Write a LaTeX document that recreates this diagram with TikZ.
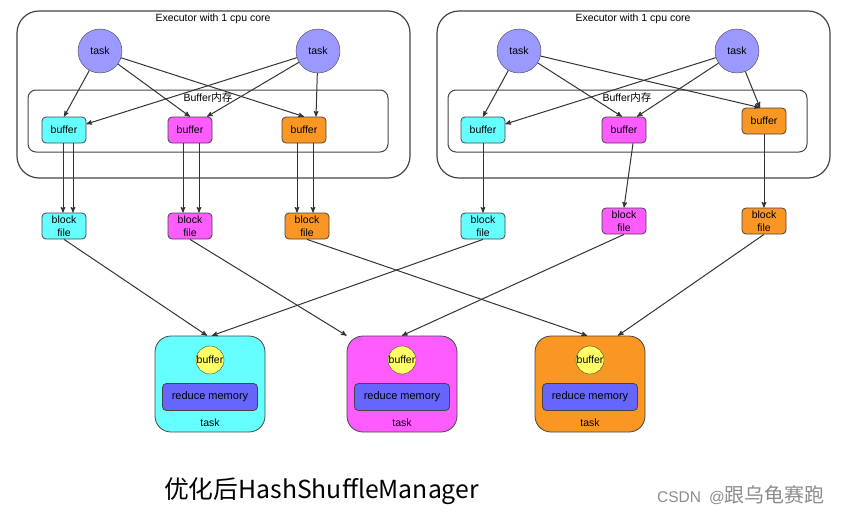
\documentclass[tikz,border=0pt]{standalone}
\usepackage{fontspec}
\setmainfont{Liberation Sans}
\newfontfamily\cjk{Noto Sans CJK SC}
\usepackage{tikz}
\usetikzlibrary{arrows,shapes}
\usetikzlibrary{positioning}
\definecolor{taskblue}{HTML}{9999FF}
\definecolor{memblue}{HTML}{6666FF}
\definecolor{cyanfill}{HTML}{66FFFF}
\definecolor{magfill}{HTML}{FF5CFF}
\definecolor{orgfill}{HTML}{FA9623}
\definecolor{yelfill}{HTML}{FFFF66}
\definecolor{edge}{HTML}{444444}
\tikzset{
    >=stealth',
    every node/.style={font=\fontsize{10.5}{12}\selectfont},
    executor/.style={draw=edge, line width=1.2pt, rounded corners=22pt},
    membox/.style={draw=edge, line width=1pt, rounded corners=8pt},
    taskcircle/.style={circle, draw=edge, fill=taskblue, minimum size=44pt, inner sep=0pt},
    bufbox/.style={draw=edge, line width=0.8pt, rounded corners=4pt, minimum width=44pt, minimum height=26pt, inner sep=0pt},
    filebox/.style={bufbox, align=center, font=\fontsize{10.5}{13}\selectfont},
    redtask/.style={draw=edge, line width=0.8pt, rounded corners=16pt, minimum width=110pt, minimum height=96pt},
    redbuf/.style={circle, draw=edge, fill=yelfill, minimum size=28pt, inner sep=0pt},
    redmem/.style={draw=edge, line width=0.8pt, fill=memblue, rounded corners=4pt, minimum width=95pt, minimum height=27pt, font=\fontsize{11}{13}\selectfont},
    flow/.style={->, draw=black!80, line width=1pt},
}

\begin{document}
\begin{tikzpicture}[x=1pt, y=-1pt]
\useasboundingbox (0,0) rectangle (844,515);
% left executor
\node[executor, minimum width=393pt, minimum height=167pt] (ex1) at (213.5,94.5) {};
\node (ex1title) at (213,19) {Executor with 1 cpu core};
\node[membox, minimum width=360pt, minimum height=62pt] (mem1) at (208,121) {};
\node (mem1title) at (208,98) {Buffer{\cjk 内存}};
\node[taskcircle] (t1a) at (100,51) {task};
\node[taskcircle] (t1b) at (318,51) {task};
\node[bufbox, fill=cyanfill] (b1c) at (64,130) {buffer};
\node[bufbox, fill=magfill] (b1m) at (190,130) {buffer};
\node[bufbox, fill=orgfill] (b1o) at (304,130) {buffer};
\node[filebox, fill=cyanfill] (f1c) at (64,226) {block\\file};
\node[filebox, fill=magfill] (f1m) at (190,226) {block\\file};
\node[filebox, fill=orgfill] (f1o) at (307,226) {block\\file};

% right executor
\node[executor, minimum width=393pt, minimum height=167pt] (ex2) at (633.5,94.5) {};
\node (ex2title) at (633,19) {Executor with 1 cpu core};
\node[membox, minimum width=359pt, minimum height=62pt] (mem2) at (627.5,121) {};
\node (mem2title) at (627,98) {Buffer{\cjk 内存}};
\node[taskcircle] (t2a) at (519,51) {task};
\node[taskcircle] (t2b) at (737,51) {task};
\node[bufbox, fill=cyanfill] (b2c) at (483,130) {buffer};
\node[bufbox, fill=magfill] (b2m) at (624,130) {buffer};
\node[bufbox, fill=orgfill] (b2o) at (764,121) {buffer};
\node[filebox, fill=cyanfill] (f2c) at (483,226) {block\\file};
\node[filebox, fill=magfill] (f2m) at (624,221) {block\\file};
\node[filebox, fill=orgfill] (f2o) at (764,221) {block\\file};

% reduce side
\foreach \n/\x/\c in {rc/210/cyanfill, rm/402/magfill, ro/590/orgfill}{
    \node[redtask, fill=\c] (\n) at (\x,384) {};
    \node[redbuf] (\n-buf) at (\x,360) {buffer};
    \node[redmem] (\n-mem) at (\x,397) {reduce memory};
    \node (\n-lbl) at (\x,423) {task};
}

% task -> buffer
\draw[flow] (t1a) -- (b1c.north);
\draw[flow] (t1a) -- (b1m.north);
\draw[flow] (t1a) -- (b1o.north);
\draw[flow] (t1b) -- (b1c.15);
\draw[flow] (t1b) -- ([xshift=17pt]b1m.north);
\draw[flow] (t1b) -- ([xshift=12pt]b1o.north);
\draw[flow] (t2a) -- (b2c.north);
\draw[flow] (t2a) -- ([xshift=-2pt]b2m.north);
\draw[flow] (t2a) -- ([xshift=-4pt]b2o.north);
\draw[flow] (t2b) -- (b2c.15);
\draw[flow] (t2b) -- ([xshift=13pt]b2m.north);
\draw[flow] (t2b) -- ([xshift=-4pt]b2o.north);

% buffer -> block file
\draw[flow] ([xshift=-1pt]b1c.south) -- ([xshift=-1pt]f1c.north);
\draw[flow] ([xshift=9pt]b1c.south) -- ([xshift=9pt]f1c.north);
\draw[flow] ([xshift=-7pt]b1m.south) -- ([xshift=-7pt]f1m.north);
\draw[flow] ([xshift=9pt]b1m.south) -- ([xshift=9pt]f1m.north);
\draw[flow] ([xshift=-7pt]b1o.south) -- ([xshift=-10pt]f1o.north);
\draw[flow] ([xshift=9pt]b1o.south) -- ([xshift=6pt]f1o.north);
\draw[flow] (b2c.south) -- (f2c.north);
\draw[flow] ([xshift=9pt]b2m.south) -- (f2m.north);
\draw[flow] (b2o.south) -- (f2o.north);

% block file -> reduce task
\draw[flow] (f1c.south) -- ([xshift=-3pt]rc.north);
\draw[flow] (f1m.south) -- (rm.north west);
\draw[flow] (f1o.south) -- ([xshift=-3pt]ro.north);
\draw[flow] (f2c.south) -- ([xshift=2pt]rc.north);
\draw[flow] (f2m.south) -- (rm.north);
\draw[flow] (f2o.south) -- ([xshift=28pt]ro.north);

\node (caption) at (321.5,491) {\cjk\fontsize{24.8}{28}\selectfont 优化后HashShuffleManager};
\node[text=black!45, anchor=west, inner sep=0pt] (mark) at (657,495) {\fontsize{15.5}{18}\selectfont CSDN\hspace{8pt}@{\cjk\fontsize{20}{21}\selectfont 跟乌龟赛跑}};
\end{tikzpicture}
\end{document}
